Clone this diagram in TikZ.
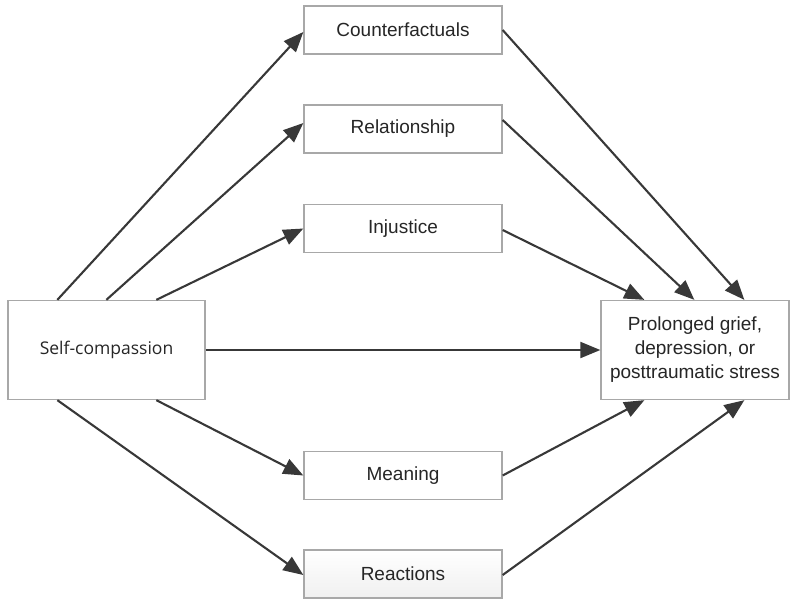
\documentclass[tikz,border=0pt]{standalone}
\usepackage{fontspec}
\setmainfont{Liberation Sans}
\newfontfamily\scfont{Open Sans}
\usetikzlibrary{arrows.meta,calc}
\definecolor{boxline}{HTML}{A8A8A8}
\definecolor{arrowc}{HTML}{383838}
\tikzset{
  mbox/.style={draw=boxline, line width=1.3pt, fill=white, minimum width=198pt, minimum height=48pt, inner sep=0pt, font=\fontsize{19}{23}\selectfont, text=black!85},
  conn/.style={draw=arrowc, line width=2.1pt, -{Triangle[length=20pt,width=16pt]}},
}
\begin{document}
\begin{tikzpicture}[x=1pt,y=1pt]
\useasboundingbox (0,0) rectangle (790,-598);
\node[mbox, minimum width=197pt, minimum height=99pt, font=\scfont\fontsize{17.5}{21}\selectfont] (sc) at (106.5,-350) {Self-compassion};
\node[mbox, minimum width=188pt, minimum height=99pt, align=center, font=\fontsize{19}{24}\selectfont] (pg) at (695,-350) {Prolonged grief,\\depression, or\\posttraumatic stress};
\node[mbox] (cf) at (403,-30) {Counterfactuals};
\node[mbox] (rel) at (403,-129) {Relationship};
\node[mbox] (inj) at (403,-228.5) {Injustice};
\node[mbox] (mean) at (403,-475.5) {Meaning};
\node[mbox, shade, top color=white, bottom color=black!6, draw=boxline] (reac) at (403,-574) {Reactions};
% from self-compassion
\draw[conn] ($(sc.north west)+(50,0)$) -- ($(cf.west)+(0,-2)$);
\draw[conn] ($(sc.north west)+(99,0)$) -- ($(rel.west)+(0,6)$);
\draw[conn] ($(sc.north west)+(149,0)$) -- (inj.west);
\draw[conn] (sc.east) -- (pg.west);
\draw[conn] ($(sc.south west)+(149,0)$) -- (mean.west);
\draw[conn] ($(sc.south west)+(50,0)$) -- ($(reac.west)+(0,-1)$);
% to outcome
\draw[conn] (cf.east) -- ($(pg.north west)+(144,0)$);
\draw[conn] ($(rel.east)+(0,9)$) -- ($(pg.north west)+(94,0)$);
\draw[conn] ($(inj.east)+(0,-1.5)$) -- ($(pg.north west)+(44,0)$);
\draw[conn] (mean.east) -- ($(pg.south west)+(44,0)$);
\draw[conn] ($(reac.east)+(0,-1)$) -- ($(pg.south west)+(144,0)$);
\end{tikzpicture}
\end{document}
